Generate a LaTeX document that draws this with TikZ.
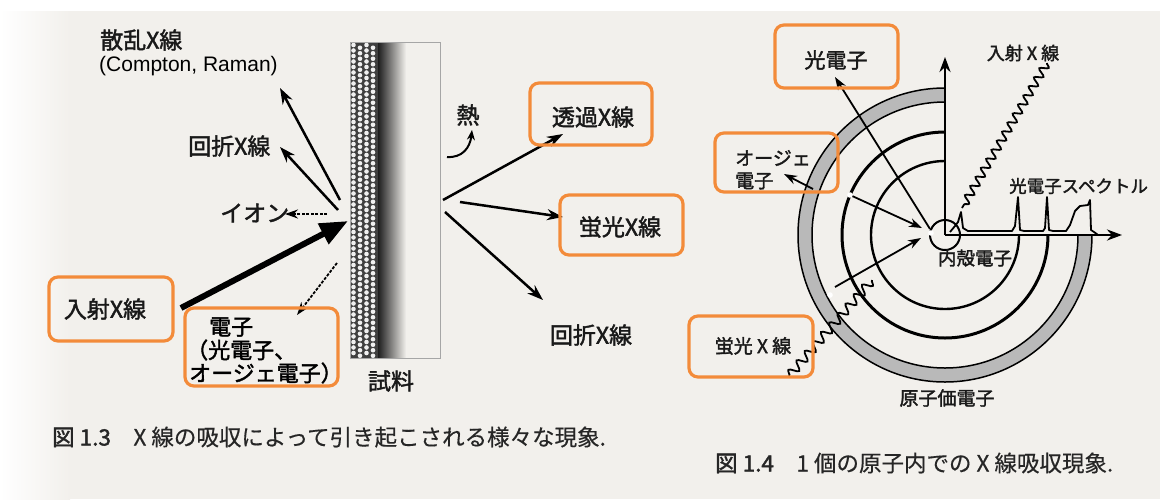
\documentclass[tikz,border=0pt]{standalone}
\usepackage{fontspec}
\setmainfont{Liberation Sans}
\newfontfamily\jp{Noto Sans CJK JP}
\newfontfamily\jpm[FakeBold=1.8]{Noto Sans CJK JP}
\newfontfamily\jpc[FakeBold=0.4]{Noto Sans CJK JP}
\usetikzlibrary{arrows.meta,decorations.pathmorphing,calc}
\definecolor{paper}{RGB}{242,240,236}
\definecolor{boxorange}{RGB}{243,139,58}
\newcommand\lblfont{\jpm\fontsize{23}{27}\selectfont}
\newcommand\elfont{\jpm\fontsize{22}{26}\selectfont}
\newcommand\atomfont{\jpm\fontsize{19}{23}\selectfont}

\begin{document}
\begin{tikzpicture}[x=1pt,y=-1pt,
  lbl/.style={font=\lblfont, inner sep=0pt, text=black!90},
  albl/.style={font=\atomfont, inner sep=0pt, text=black!90},
  captxt/.style={font=\jpc\fontsize{22.5}{26}\selectfont, inner sep=0pt, anchor=west, text=black!85},
  obox/.style={draw=boxorange, line width=3.2pt, rounded corners=9pt, inner sep=0pt},
  ray/.style={line width=2.5pt, -{Stealth[length=16pt,width=11pt]}},
  thinray/.style={line width=1.8pt, -{Stealth[length=13pt,width=9pt]}},
  dray/.style={line width=1.8pt, dash pattern=on 3pt off 1.5pt, -{Stealth[length=13pt,width=9pt]}},
  wave/.style={line width=1.8pt, decorate, decoration={snake, segment length=10.5pt, amplitude=4pt}},
]
\useasboundingbox (0,0) rectangle (1160,499);
% paper
\fill[paper] (0,0) rectangle (1160,499);
\shade[left color=white, right color=paper] (0,11) rectangle (70,499);
\fill[white] (0,0) rectangle (1160,11);

% ---------------- sample slab ----------------
\fill[black!75] (350,42) rectangle (378,358);
\foreach \i/\o in {0/0,1/2.75,2/0,3/2.75}{
  \foreach \j in {0,...,56}{
    \fill[white!88!gray] (353.5+6.5*\i, 45+5.5*\j+\o) circle[radius=2.3pt];
  }
}
\shade[left color=black!88, middle color=black!35, right color=paper] (378,42) rectangle (406,358);
\draw[gray!70, line width=0.8pt] (350,42) rectangle (440,358);

% impact and exit points on the slab
\coordinate (scA) at (340,200);  \coordinate (scB) at (280,88);
\coordinate (dfA) at (338,210);  \coordinate (dfB) at (280,147);
\coordinate (ioA) at (327,214);  \coordinate (ioB) at (285,214);
\coordinate (inA) at (181,308);  \coordinate (inB) at (348,221);
\coordinate (elA) at (337,263);  \coordinate (elB) at (297,315);
\coordinate (trA) at (443,200);  \coordinate (trB) at (563,134);
\coordinate (flA) at (460,202);  \coordinate (flB) at (563,217);
\coordinate (drA) at (445,212);  \coordinate (drB) at (543,300);
\coordinate (htA) at (447,157);  \coordinate (htB) at (472,130);

\draw[ray] (scA) -- (scB);
\draw[ray] (dfA) -- (dfB);
\draw[dray] (ioA) -- (ioB);
\draw[line width=6pt, -{Triangle[length=28pt,width=22pt]}] (inA) -- (inB);
\draw[dray] (elA) -- (elB);
\draw[ray] (trA) -- (trB);
\draw[ray] (flA) -- (flB);
\draw[ray] (drA) -- (drB);
\draw[line width=2pt, -{Stealth[length=10pt,width=8pt]}] (htA) .. controls (462,158) and (470,148) .. (htB);

% labels, left figure
\node[lbl, anchor=west] (tSc) at (100,40) {散乱X線};
\node[anchor=west, inner sep=0pt, font=\fontsize{21}{25}\selectfont] (tCR) at (99,66) {(Compton, Raman)};
\node[lbl, anchor=west] (tDfL) at (188,146) {回折X線};
\node[lbl, anchor=west] (tIo) at (220,213) {イオン};
\node[lbl] (tHt) at (468,115) {熱};
\node[lbl] (tSm) at (391,381) {試料};
\node[lbl] (tDfR) at (591,335) {回折X線};

\node[obox, minimum width=124pt, minimum height=64pt] (bIn) at (111,309) {};
\node[lbl] (tIn) at (105,309) {入射X線};
\node[obox, minimum width=153pt, minimum height=78pt] (bEl) at (261.5,347) {};
\node[font=\elfont, inner sep=0pt, anchor=west] (tEl1) at (209,327) {電子};
\node[font=\elfont, inner sep=0pt, anchor=west] (tEl2) at (186,350) {（光電子、};
\node[font=\elfont, inner sep=0pt, anchor=west] (tEl3) at (189,373) {オージェ電子）};
\node[obox, minimum width=122pt, minimum height=62pt] (bTr) at (591,114) {};
\node[lbl] (tTr) at (593,117) {透過X線};
\node[obox, minimum width=123pt, minimum height=60pt] (bFlL) at (621.5,225) {};
\node[lbl] (tFlL) at (620,227) {蛍光X線};

% ---------------- atom ----------------
\coordinate (O) at (945,235);
\fill[gray!55] ($(O)+(0,-147)$) arc[start angle=270,end angle=0,radius=147]
   -- ($(O)+(133,0)$) arc[start angle=0,end angle=270,radius=133] -- cycle;
\draw[line width=1.5pt] ($(O)+(0,-147)$) arc[start angle=270,end angle=0,radius=147];
\draw[line width=1.5pt] ($(O)+(0,-133)$) arc[start angle=270,end angle=0,radius=133];
\draw[line width=3pt] ($(O)+(0,-103)$) arc[start angle=270,end angle=0,radius=103];
\draw[line width=2.4pt] ($(O)+(0,-74)$) arc[start angle=270,end angle=0,radius=74];
\draw[line width=2pt, fill=paper] (O) circle[radius=15pt];

% axes of the photoelectron spectrum
\coordinate (yTop) at (945,57);
\coordinate (xEnd) at (1122,235);
\draw[line width=2.6pt, -{Stealth[length=15pt,width=11pt]}] (O) -- (yTop);
\draw[line width=2.6pt, -{Stealth[length=15pt,width=11pt]}] (O) -- (xEnd);
\draw[line width=1.8pt, line join=round]
  (950,232) -- (955,226) -- (958,222) -- (961,212) -- (963,228) -- (968,231)
  -- (1012,231) -- (1015,226) -- (1018,197) -- (1020,230) -- (1024,231)
  -- (1043,231) -- (1045,228) -- (1047,197) -- (1049,230) -- (1053,231)
  -- (1066,231) -- (1070,225) -- (1075,211) -- (1080,206) -- (1088,205)
  -- (1090,200) -- (1091,230) -- (1094,232) -- (1098,235);

% incident photon and emitted particles
\coordinate (phA) at (1047,63);  \coordinate (phB) at (962,208);
\draw[wave] (phA) -- (phB);
\coordinate (peA) at (930,229);  \coordinate (peB) at (835,77);
\draw[thinray] (peA) -- (peB);
\coordinate (auA) at (813,189);  \coordinate (auB) at (784,174);
\draw[thinray] (auA) -- (auB);
\coordinate (e1A) at (850,195);  \coordinate (e1B) at (922,228);
\draw[thinray] (e1A) -- (e1B);
\coordinate (e2A) at (835,287);  \coordinate (e2B) at (921,238);
\draw[thinray] (e2A) -- (e2B);
\coordinate (fxA) at (872,280);  \coordinate (fxB) at (789,376);
\draw[wave, decoration={snake, segment length=12.5pt, amplitude=4.5pt}] (fxA) -- (fxB);
\foreach \p in {(850,195),(830,295),(931,233)}
  \fill[white] \p circle[radius=2.8pt];

% labels, atom
\node[obox, minimum width=123pt, minimum height=63pt] (bPe) at (836.5,56.5) {};
\node[albl, font=\jpm\fontsize{21}{25}\selectfont] (tPe) at (836,60) {光電子};
\node[obox, minimum width=123pt, minimum height=59pt] (bAu) at (776.5,162.5) {};
\node[albl, anchor=west] (tAu1) at (735,158) {オージェ};
\node[albl, anchor=west] (tAu2) at (735,181) {電子};
\node[obox, minimum width=124pt, minimum height=61pt] (bFlR) at (751,346.5) {};
\node[albl] (tFlR) at (753,346) {蛍光 X 線};
\node[albl, font=\jpm\fontsize{18}{22}\selectfont] (tInR) at (1023,53) {入射 X 線};
\node[albl, anchor=west, font=\jpm\fontsize{17.5}{21}\selectfont] (tSp) at (1009,186) {光電子スペクトル};
\node[albl, font=\jpm\fontsize{18.5}{22}\selectfont] (tCore) at (975,258) {内殻電子};
\node[albl] (tVal) at (947,398) {原子価電子};

% captions
\node[captxt] (c13) at (52,437) {{\jpm 図 1.3}\quad X 線の吸収によって引き起こされる様々な現象.};
\node[captxt] (c14) at (715,463) {{\jpm 図 1.4}\quad 1 個の原子内での X 線吸収現象.};
\end{tikzpicture}
\end{document}
